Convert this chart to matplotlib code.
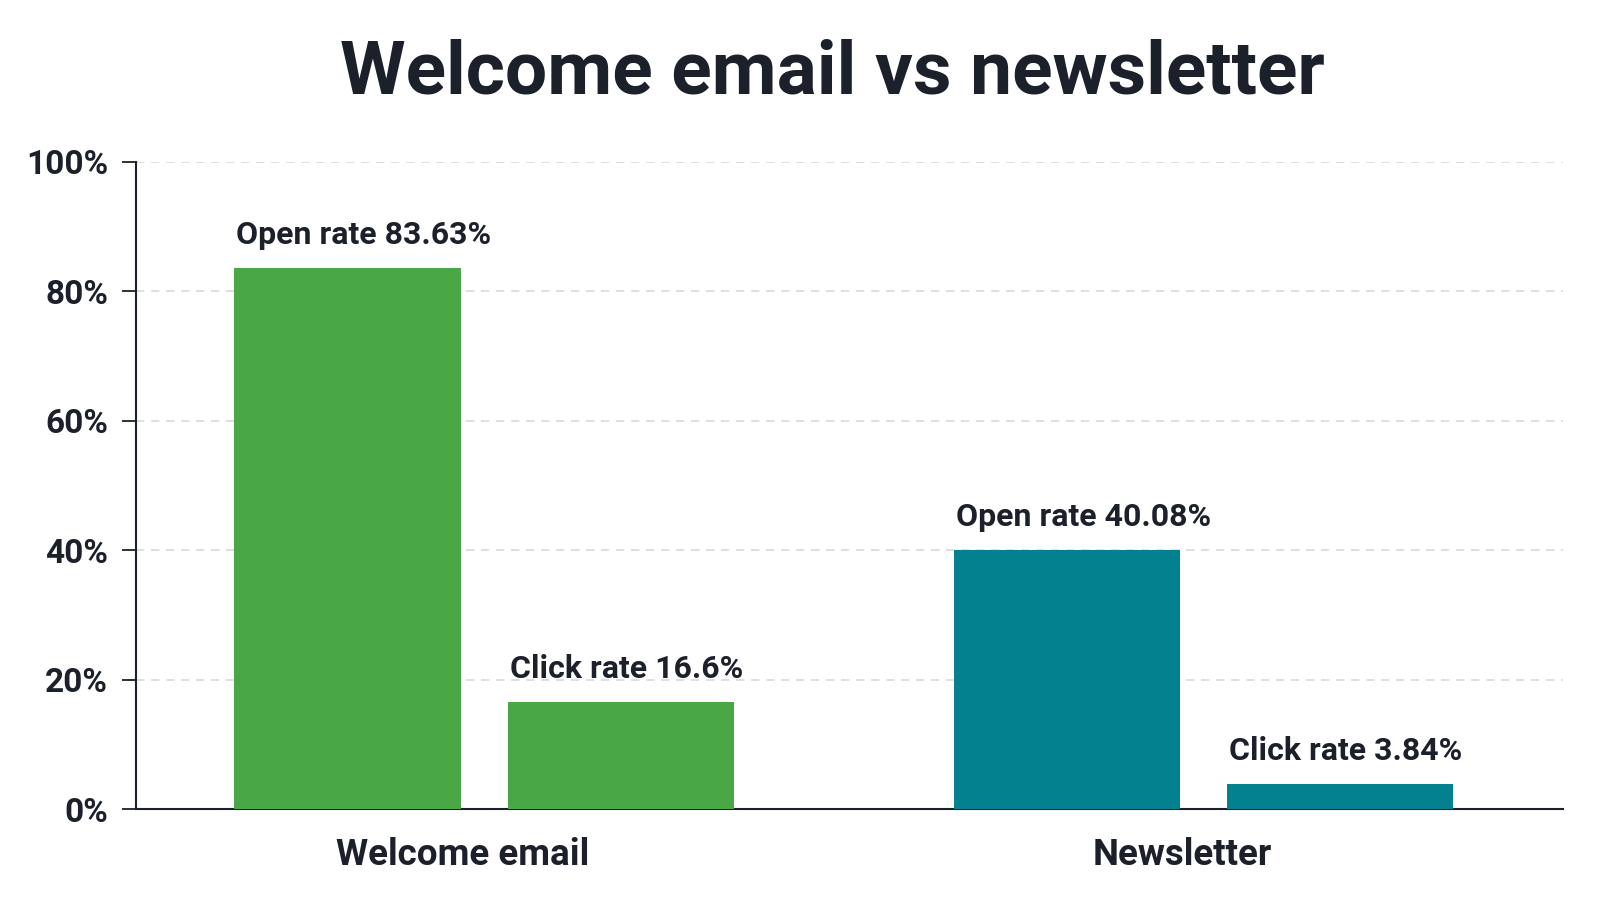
import numpy as np
import matplotlib
matplotlib.use("Agg")
import matplotlib.pyplot as plt
from matplotlib.ticker import FuncFormatter

plt.rcParams['font.family'] = ['Roboto', 'DejaVu Sans']

# datos
categorias = ['Welcome email', 'Newsletter']
open_rate = [83.63, 40.08]
click_rate = [16.6, 3.84]
open_labels = ['Open rate 83.63%', 'Open rate 40.08%']
click_labels = ['Click rate 16.6%', 'Click rate 3.84%']
colores = ['#49a745', '#04818f']
y_ticks = [0, 20, 40, 60, 80, 100]

texto = '#1b202b'

fig = plt.figure(figsize=(16, 9), dpi=100)
fig.patch.set_facecolor('white')
ax = fig.add_axes([0.085, 0.101, 0.892, 0.719])

x = np.arange(len(categorias))
ancho = 0.315
desp = 0.19

bars_open = ax.bar(x - desp, open_rate, ancho, color=colores, zorder=3)
bars_click = ax.bar(x + desp, click_rate, ancho, color=colores, zorder=3)

# etiquetas encima de las barras
for bars, labels in [(bars_open, open_labels), (bars_click, click_labels)]:
    for b, lab in zip(bars, labels):
        ax.annotate(lab, (b.get_x(), b.get_height()), xytext=(2, 18),
                    textcoords='offset pixels', ha='left', va='bottom',
                    fontsize=23, fontweight='bold', color=texto)

ax.set_xlim(-0.484, 1.5)
ax.set_ylim(0, 100)
ax.set_yticks(y_ticks)
ax.yaxis.set_major_formatter(FuncFormatter(lambda v, p: f'{v:.0f}%'))
ax.set_xticks(x - 0.03)
ax.set_xticklabels(categorias)

ax.tick_params(axis='y', length=10, width=1.3, pad=10, labelsize=24,
               labelcolor=texto, color=texto)
ax.tick_params(axis='x', length=0, pad=20, labelsize=26.5, labelcolor=texto)
for lab in ax.get_yticklabels() + ax.get_xticklabels():
    lab.set_fontweight('bold')

ax.grid(axis='y', color='#d9d9d9', linestyle=(0, (5, 4)), linewidth=1.2, zorder=0)
for s in ['top', 'right']:
    ax.spines[s].set_visible(False)
for s in ['left', 'bottom']:
    ax.spines[s].set_color(texto)
    ax.spines[s].set_linewidth(1.5)

fig.text(0.52, 0.918, 'Welcome email vs newsletter', ha='center', va='center',
         fontsize=54, fontweight='bold', color=texto)

plt.savefig('out.png', dpi=100)
